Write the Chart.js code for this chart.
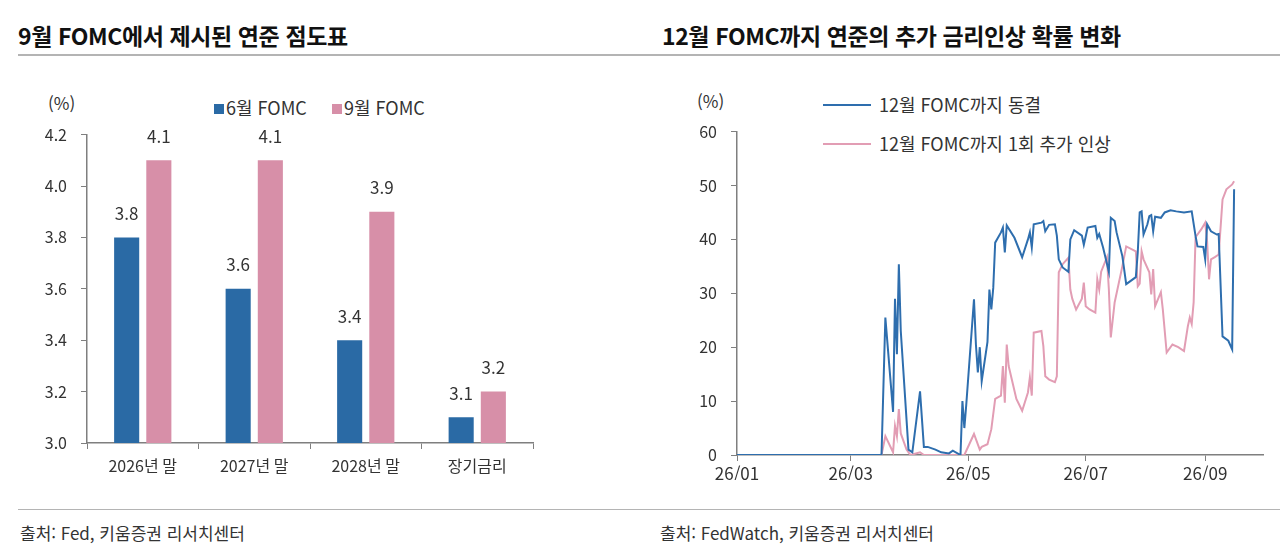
<!DOCTYPE html>
<html lang="ko">
<head>
<meta charset="UTF-8">
<title>FOMC 점도표 / 금리인상 확률</title>
<script src="https://cdn.jsdelivr.net/npm/chart.js"></script>
<style>
    body { margin: 0; background: #fff; font-family: "Noto Sans CJK KR", sans-serif; color: #222; }
    #page { position: relative; width: 1280px; height: 559px; overflow: hidden; }
    .title { position: absolute; top: 19px; font-size: 23px; font-weight: bold; letter-spacing: -0.4px; color: #111; line-height: 32px; }
    .rule { position: absolute; left: 18px; right: 0; height: 2px; background: #b4b4b4; }
    .txt { position: absolute; font-size: 18px; color: #333; white-space: nowrap; line-height: 24px; }
    .box { position: absolute; }
    .sw { display: inline-block; width: 10px; height: 10px; margin-right: 2px; vertical-align: 1px; }
    .ln { display: inline-block; width: 48px; height: 2px; margin-right: 8px; vertical-align: 6px; }
</style>
</head>
<body>
<div id="page">
    <div class="title" style="left:18px">9월 FOMC에서 제시된 연준 점도표</div>
    <div class="title" style="left:662px">12월 FOMC까지 연준의 추가 금리인상 확률 변화</div>
    <div class="rule" style="top:54px"></div>
    <div class="rule" style="top:509px;height:1px"></div>

    <div class="txt" style="left:48px;top:91px;font-size:17px">(%)</div>
    <div class="txt" style="left:214px;top:95px"><span class="sw" style="background:#2a6aa5"></span>6월 FOMC</div>
    <div class="txt" style="left:332px;top:95px"><span class="sw" style="background:#d78fa8"></span>9월 FOMC</div>

    <div class="txt" style="left:697px;top:89px;font-size:17px">(%)</div>
    <div class="txt" style="left:823px;top:92px"><span class="ln" style="background:#2e6eae"></span>12월 FOMC까지 동결</div>
    <div class="txt" style="left:823px;top:131px"><span class="ln" style="background:#e29db4"></span>12월 FOMC까지 1회 추가 인상</div>

    <div class="box" style="left:0;top:111px;width:545px;height:369px"><canvas id="dots"></canvas></div>
    <div class="box" style="left:650px;top:108px;width:630px;height:372px"><canvas id="prob"></canvas></div>

    <div class="txt" style="left:20px;top:521px;font-size:17px">출처: Fed, 키움증권 리서치센터</div>
    <div class="txt" style="left:660px;top:521px;font-size:17px">출처: FedWatch, 키움증권 리서치센터</div>
</div>

<script>
    // ---- left: dot plot medians ----
    var dotCategories = ['2026년 말', '2027년 말', '2028년 말', '장기금리'];
    var juneMedians = [3.8, 3.6, 3.4, 3.1];
    var septMedians = [4.1, 4.1, 3.9, 3.2];

    // ---- right: FedWatch probabilities (%), dates are MM-DD in 2026 ----
    var YEAR = 2026;
    var monthTicks = ['01-01', '03-01', '05-01', '07-01', '09-01'];
    var monthTickLabels = ['26/01', '26/03', '26/05', '26/07', '26/09'];

    var freezeDates = ['01-01', '03-17', '03-19', '03-23', '03-24', '03-25', '03-26', '03-27', '03-31', '04-02',
        '04-06', '04-08', '04-10', '04-14', '04-17', '04-21', '04-23', '04-27', '04-28', '04-29',
        '04-30', '05-04', '05-05', '05-06', '05-07', '05-08', '05-11', '05-12', '05-13', '05-14',
        '05-15', '05-18', '05-19', '05-20', '05-21', '05-25', '05-29', '06-01', '06-02', '06-03',
        '06-04', '06-08', '06-09', '06-10', '06-12', '06-15', '06-16', '06-17', '06-19', '06-22',
        '06-23', '06-25', '06-29', '06-30', '07-02', '07-06', '07-07', '07-08', '07-10', '07-13',
        '07-14', '07-16', '07-17', '07-20', '07-22', '07-27', '07-28', '07-29', '07-30', '07-31',
        '08-02', '08-03', '08-04', '08-05', '08-06', '08-09', '08-11', '08-14', '08-17', '08-21',
        '08-25', '08-27', '08-28', '08-31', '09-01', '09-02', '09-04', '09-07', '09-08', '09-10',
        '09-13', '09-15', '09-16'];
    var freezeValues = [0, 0, 25.5, 8, 29, 18.7, 35.4, 23, 1, 0.5,
        11.8, 1.5, 1.5, 1, 0.5, 0.3, 0.8, 0, 10, 5,
        9.4, 28.9, 20.5, 15.3, 20, 13.7, 21, 30.7, 27, 31,
        39.4, 41.3, 42.2, 37.6, 42.6, 40.3, 36.7, 40, 41.3, 38.5,
        42.8, 43.1, 43.4, 41.5, 42.7, 42.8, 40.7, 36.3, 34.8, 34,
        40, 41.7, 40.7, 39, 42.2, 42.5, 40.3, 41, 38.5, 34,
        44, 43.4, 41.3, 36.9, 31.7, 33, 37.6, 45, 45.2, 40.9,
        42.8, 44.3, 44.5, 41.5, 44.2, 44, 45, 45.4, 45.2, 45,
        45.2, 40.6, 38.7, 38.6, 36.3, 42.8, 41.5, 40.9, 41, 22,
        21.2, 19.6, 49.3];

    var hikeDates = ['01-01', '03-17', '03-19', '03-23', '03-24', '03-25', '03-26', '03-27', '03-30', '04-01',
        '04-06', '04-08', '04-29', '05-04', '05-07', '05-08', '05-11', '05-13', '05-15', '05-18',
        '05-19', '05-20', '05-21', '05-22', '05-26', '05-29', '06-01', '06-02', '06-03', '06-04',
        '06-08', '06-09', '06-10', '06-12', '06-15', '06-16', '06-17', '06-19', '06-22', '06-23',
        '06-24', '06-26', '06-29', '06-30', '07-01', '07-03', '07-06', '07-07', '07-08', '07-09',
        '07-12', '07-13', '07-14', '07-16', '07-20', '07-22', '07-27', '07-28', '07-29', '07-30',
        '07-31', '08-03', '08-04', '08-05', '08-06', '08-09', '08-10', '08-12', '08-15', '08-18',
        '08-21', '08-23', '08-24', '08-25', '08-26', '08-27', '08-30', '09-01', '09-02', '09-03',
        '09-04', '09-06', '09-08', '09-10', '09-12', '09-15', '09-16'];
    var hikeValues = [0, 0, 3.5, 0.5, 5.4, 3.5, 8.5, 4, 1, 0,
        0.5, 0, 0, 3.9, 1, 1.5, 2, 4.8, 10.4, 11,
        16.5, 9.7, 20.5, 16.5, 10.4, 8.2, 11.6, 14.4, 11, 22.7,
        23, 20.2, 14.6, 14, 13.5, 14.6, 33.9, 35.4, 36.6, 30.7,
        29, 27, 29, 32, 27.6, 27, 26.4, 32.6, 30.7, 34,
        36.7, 30.7, 21.8, 28.3, 35, 38.7, 37.8, 31.3, 31.8, 37.8,
        36.3, 33.9, 29.8, 34.5, 27.6, 30.2, 27, 19, 20.5, 20,
        19.3, 23.9, 25.5, 24.3, 28.3, 40.4, 41.9, 43.1, 39.6, 32.6,
        36.3, 36.7, 37.2, 47.4, 49.3, 50.2, 50.8];

    // day number from Jan 1
    function dayOf(md) {
        var p = md.split('-');
        return (Date.UTC(YEAR, +p[0] - 1, +p[1]) - Date.UTC(YEAR, 0, 1)) / 864e5;
    }
    function toPoints(dates, values) {
        return dates.map(function (d, i) { return { x: dayOf(d), y: values[i] }; });
    }

    var axisColor = '#7f7f7f';
    var fam = '"Noto Sans CJK KR", sans-serif';
    Chart.defaults.color = '#333';
    Chart.defaults.animation = false;

    // value labels above the bars
    var barLabels = {
        id: 'barLabels',
        afterDatasetsDraw: function (chart) {
            var ctx = chart.ctx;
            ctx.save();
            ctx.font = '17px ' + fam;
            ctx.fillStyle = '#333';
            ctx.textAlign = 'center';
            ctx.textBaseline = 'middle';
            chart.data.datasets.forEach(function (ds, i) {
                chart.getDatasetMeta(i).data.forEach(function (bar, j) {
                    ctx.fillText(ds.data[j].toFixed(1), bar.x, bar.y - 24);
                });
            });
            ctx.restore();
        }
    };

    new Chart(document.getElementById('dots'), {
        type: 'bar',
        data: {
            labels: dotCategories,
            datasets: [
                { label: '6월 FOMC', data: juneMedians, backgroundColor: '#2a6aa5' },
                { label: '9월 FOMC', data: septMedians, backgroundColor: '#d78fa8' }
            ]
        },
        options: {
            responsive: true,
            maintainAspectRatio: false,
            layout: { padding: { top: 5, right: 12 } },
            datasets: { bar: { categoryPercentage: 0.577, barPercentage: 0.78 } },
            plugins: { legend: { display: false }, tooltip: { enabled: false } },
            scales: {
                x: {
                    offset: true,
                    border: { color: axisColor, width: 1.5 },
                    grid: { offset: true, drawOnChartArea: false, color: axisColor, tickLength: 6 },
                    ticks: { font: { family: fam, size: 16 }, padding: 7 },
                    afterFit: function (s) { s.height = 37; }
                },
                y: {
                    min: 3.0, max: 4.2,
                    border: { color: axisColor, width: 1.5 },
                    grid: { drawOnChartArea: false, color: axisColor, tickLength: 6 },
                    ticks: { font: { family: fam, size: 16 }, stepSize: 0.2, padding: 14, callback: function (v) { return v.toFixed(1); } },
                    afterFit: function (s) { s.width = 87; }
                }
            }
        },
        plugins: [barLabels]
    });

    var tickDays = monthTicks.map(dayOf);

    new Chart(document.getElementById('prob'), {
        type: 'line',
        data: {
            datasets: [
                { label: '12월 FOMC까지 동결', data: toPoints(freezeDates, freezeValues), borderColor: '#2e6eae', borderWidth: 2, pointRadius: 0, tension: 0 },
                { label: '12월 FOMC까지 1회 추가 인상', data: toPoints(hikeDates, hikeValues), borderColor: '#e29db4', borderWidth: 2, pointRadius: 0, tension: 0 }
            ]
        },
        options: {
            responsive: true,
            maintainAspectRatio: false,
            layout: { padding: { top: 0, right: 17 } },
            plugins: { legend: { display: false }, tooltip: { enabled: false } },
            scales: {
                x: {
                    type: 'linear',
                    min: 0, max: dayOf('10-01'),
                    border: { color: axisColor, width: 1.5 },
                    grid: { drawOnChartArea: false, color: axisColor, tickLength: 6 },
                    afterBuildTicks: function (s) { s.ticks = tickDays.map(function (v) { return { value: v }; }); },
                    ticks: {
                        font: { family: fam, size: 17 }, padding: 2, maxRotation: 0, autoSkip: false,
                        callback: function (v) { return monthTickLabels[tickDays.indexOf(v)]; }
                    },
                    afterFit: function (s) { s.height = 25; }
                },
                y: {
                    min: 0, max: 60,
                    border: { color: axisColor, width: 1.5 },
                    grid: { drawOnChartArea: false, color: axisColor, tickLength: 6 },
                    ticks: { font: { family: fam, size: 16 }, stepSize: 10, padding: 14 },
                    afterFit: function (s) { s.width = 87; }
                }
            }
        }
    });
</script>
</body>
</html>
